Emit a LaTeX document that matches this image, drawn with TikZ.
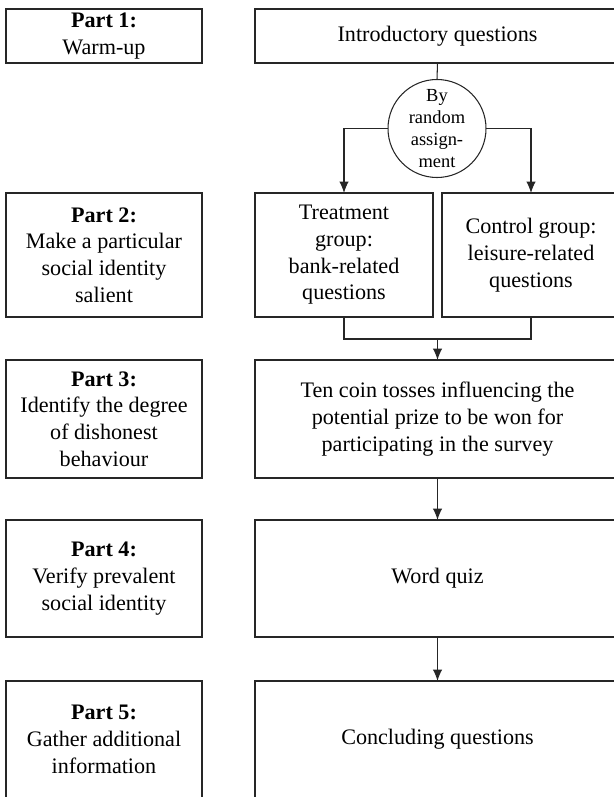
\documentclass[tikz,border=0pt]{standalone}
\usepackage{fontspec}
\setmainfont{Liberation Serif}
\usepackage{tikz}
\usetikzlibrary{positioning}
\usetikzlibrary{arrows.meta}

\begin{document}

\begin{tikzpicture}[
    >={Latex[length=2.3mm,width=1.9mm]},
    every node/.style={font=\fontsize{12.6}{15.2}\selectfont},
    partbox/.style={draw=black!85, line width=0.6pt, outer sep=0pt, inner sep=0pt, align=center, minimum width=3.92cm},
    stagebox/.style={draw=black!85, line width=0.6pt, outer sep=0pt, inner sep=0pt, align=center, minimum width=7.3cm},
    groupbox/.style={draw=black!85, line width=0.6pt, outer sep=0pt, inner sep=0pt, align=center, minimum width=3.56cm},
    link/.style={draw=black!85, line width=0.6pt}
]

\clip (0,0) rectangle (12.28,-15.94);

\begin{scope}[xshift=0cm]
% left column
\node[partbox, minimum height=1.08cm] (part1) at (2.08,-0.72) {\textbf{Part 1:}\\Warm-up};
\node[partbox, minimum height=2.48cm] (part2) at (2.08,-5.10) {\textbf{Part 2:}\\Make a particular\\social identity\\salient};
\node[partbox, minimum height=2.36cm] (part3) at (2.08,-8.38) {\textbf{Part 3:}\\Identify the degree\\of dishonest\\behaviour};
\node[partbox, minimum height=2.34cm] (part4) at (2.08,-11.57) {\textbf{Part 4:}\\Verify prevalent\\social identity};
\node[partbox, minimum height=2.34cm] (part5) at (2.08,-14.79) {\textbf{Part 5:}\\Gather additional\\information};

% right column
\node[stagebox, minimum height=1.08cm] (intro) at (8.75,-0.72) {Introductory questions};
\node[circle, draw=black!85, line width=0.6pt, outer sep=0pt, inner sep=0pt, minimum size=1.96cm, align=center, font=\fontsize{10.5}{12.5}\selectfont] (rand) at (8.74,-2.57) {By\\random\\assign-\\ment};
\node[groupbox, minimum height=2.48cm] (treat) at (6.88,-5.10) {Treatment\\group:\\bank-related\\questions};
\node[groupbox, minimum height=2.48cm] (ctrl) at (10.62,-5.10) {Control group:\\leisure-related\\questions};
\node[stagebox, minimum height=2.36cm] (coin) at (8.75,-8.38) {Ten coin tosses influencing the\\potential prize to be won for\\participating in the survey};
\node[stagebox, minimum height=2.34cm] (quiz) at (8.75,-11.57) {Word quiz};
\node[stagebox, minimum height=2.34cm] (concl) at (8.75,-14.79) {Concluding questions};

\coordinate (merge) at (8.75,-6.78);

% connectors
\draw[link] (intro.south)--(rand.north);
\draw[link,->] (rand.west)-|(treat.north);
\draw[link,->] (rand.east)-|(ctrl.north);
\draw[link] (treat.south)|-(merge)-|(ctrl.south);
\draw[link,->] (merge)--(coin.north);
\draw[link,->] (coin.south)--(quiz.north);
\draw[link,->] (quiz.south)--(concl.north);
\end{scope}

\end{tikzpicture}

\end{document}
